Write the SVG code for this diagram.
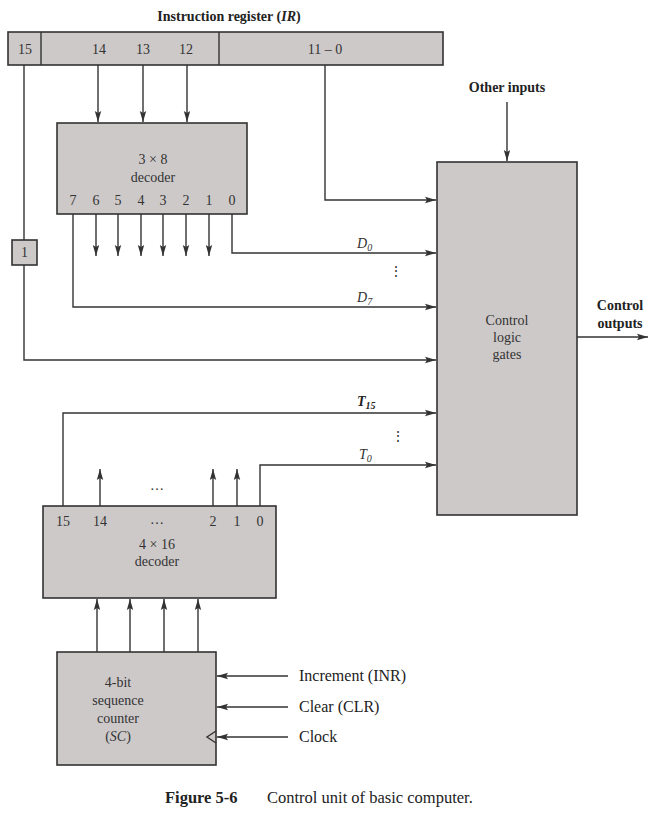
<svg xmlns="http://www.w3.org/2000/svg" width="653" height="815" viewBox="0 0 653 815">
<defs>
<marker id="ah" markerWidth="12" markerHeight="8" refX="11" refY="4" orient="auto" markerUnits="userSpaceOnUse">
<path d="M0,0.8 L11,4 L0,7.2 L2,4 Z" fill="#333"/>
</marker>
</defs>
<style>
.box{fill:#cdc9c9;stroke:#333;stroke-width:1.6}
.ln{fill:none;stroke:#333;stroke-width:1.4}
.ar{fill:none;stroke:#333;stroke-width:1.4;marker-end:url(#ah)}
text{font-family:"Liberation Serif","DejaVu Serif",serif;fill:#222;font-size:14px}
.c{text-anchor:middle}
.b{font-weight:bold}
.i{font-style:italic}
.g{fill:#333}
.lg{font-size:16px}
.cap{font-size:16.5px}
</style>
<rect width="653" height="815" fill="#fff"/>

<g id="ir">
<text x="229" y="21" class="c b" font-size="15">Instruction register (<tspan class="i">IR</tspan>)</text>
<rect class="box" x="8" y="32" width="435" height="33"/>
<line class="ln" x1="41" y1="32" x2="41" y2="65"/>
<line class="ln" x1="219" y1="32" x2="219" y2="65"/>
<text x="25" y="54" class="c g">15</text>
<text x="99" y="54" class="c g">14</text>
<text x="143" y="54" class="c g">13</text>
<text x="186" y="54" class="c g">12</text>
<text x="325" y="54" class="c g">11 – 0</text>
</g>

<g id="dec38">
<rect class="box" x="57" y="123" width="190" height="91"/>
<text x="153" y="164" class="c g">3 × 8</text>
<text x="153" y="182" class="c g">decoder</text>
<text x="73" y="205" class="c g">7</text>
<text x="96" y="205" class="c g">6</text>
<text x="118" y="205" class="c g">5</text>
<text x="141" y="205" class="c g">4</text>
<text x="163" y="205" class="c g">3</text>
<text x="186" y="205" class="c g">2</text>
<text x="209" y="205" class="c g">1</text>
<text x="232" y="205" class="c g">0</text>
</g>

<g id="not1">
<rect class="box" x="12" y="240" width="25" height="25"/>
<text x="24.5" y="257" class="c g">1</text>
</g>

<g id="control">
<rect class="box" x="437" y="162" width="140" height="353"/>
<text x="507" y="325" class="c g">Control</text>
<text x="507" y="342" class="c g">logic</text>
<text x="507" y="359" class="c g">gates</text>
<text x="507" y="92" class="c b" font-size="15">Other inputs</text>
<text x="620" y="310" class="c b" font-size="15">Control</text>
<text x="620" y="328" class="c b" font-size="15">outputs</text>
</g>

<g id="dec416">
<rect class="box" x="43" y="506" width="233" height="92"/>
<text x="63" y="526" class="c g">15</text>
<text x="100" y="526" class="c g">14</text>
<text x="157" y="524" class="c g">…</text>
<text x="213" y="526" class="c g">2</text>
<text x="237" y="526" class="c g">1</text>
<text x="260" y="526" class="c g">0</text>
<text x="157" y="549" class="c g">4 × 16</text>
<text x="157" y="566" class="c g">decoder</text>
</g>

<g id="sc">
<rect class="box" x="57" y="652" width="159" height="113"/>
<text x="118" y="687" class="c g">4-bit</text>
<text x="118" y="705" class="c g">sequence</text>
<text x="118" y="723" class="c g">counter</text>
<text x="118" y="741" class="c g">(<tspan class="i">SC</tspan>)</text>
<path class="ln" d="M216,731 L207,737 L216,743"/>
<text x="299" y="681" class="lg">Increment (INR)</text>
<text x="299" y="712" class="lg">Clear (CLR)</text>
<text x="299" y="742" class="lg">Clock</text>
</g>

<g id="connectors">
<line class="ln" x1="24" y1="65" x2="24" y2="240"/>
<polyline class="ar" points="24,265 24,360 436,360"/>
<line class="ar" x1="98" y1="65" x2="98" y2="122"/>
<line class="ar" x1="143" y1="65" x2="143" y2="122"/>
<line class="ar" x1="187" y1="65" x2="187" y2="122"/>
<polyline class="ar" points="325,65 325,200 436,200"/>
<line class="ar" x1="507" y1="102" x2="507" y2="161"/>
<polyline class="ar" points="232,214 232,253 436,253"/>
<polyline class="ar" points="73,214 73,307 436,307"/>
<line class="ar" x1="96" y1="214" x2="96" y2="256"/>
<line class="ar" x1="118" y1="214" x2="118" y2="256"/>
<line class="ar" x1="141" y1="214" x2="141" y2="256"/>
<line class="ar" x1="163" y1="214" x2="163" y2="256"/>
<line class="ar" x1="186" y1="214" x2="186" y2="256"/>
<line class="ar" x1="209" y1="214" x2="209" y2="256"/>
<line class="ar" x1="577" y1="337" x2="648" y2="337"/>
<polyline class="ar" points="63,506 63,413 436,413"/>
<polyline class="ar" points="260,506 260,465 436,465"/>
<line class="ar" x1="100" y1="506" x2="100" y2="469"/>
<line class="ar" x1="213" y1="506" x2="213" y2="469"/>
<line class="ar" x1="237" y1="506" x2="237" y2="469"/>
<text x="157" y="490" class="c g">…</text>
<line class="ar" x1="97" y1="652" x2="97" y2="599"/>
<line class="ar" x1="130" y1="652" x2="130" y2="599"/>
<line class="ar" x1="164" y1="652" x2="164" y2="599"/>
<line class="ar" x1="198" y1="652" x2="198" y2="599"/>
<line class="ar" x1="288" y1="676" x2="217" y2="676"/>
<line class="ar" x1="288" y1="707" x2="217" y2="707"/>
<line class="ar" x1="288" y1="737" x2="217" y2="737"/>
<text x="357" y="248" class="i g">D<tspan font-size="10" dy="3">0</tspan></text>
<text x="357" y="302" class="i g">D<tspan font-size="10" dy="3">7</tspan></text>
<text x="396" y="276" class="c g" font-size="11">⋮</text>
<text x="357" y="406" class="i b" font-size="15">T<tspan font-size="10" dy="3">15</tspan></text>
<text x="359" y="459" class="i g">T<tspan font-size="10" dy="3">0</tspan></text>
<text x="398" y="441" class="c g" font-size="11">⋮</text>
</g>

<text x="165" y="803" class="b cap">Figure 5-6</text>
<text x="267" y="803" class="cap">Control unit of basic computer.</text>
</svg>
